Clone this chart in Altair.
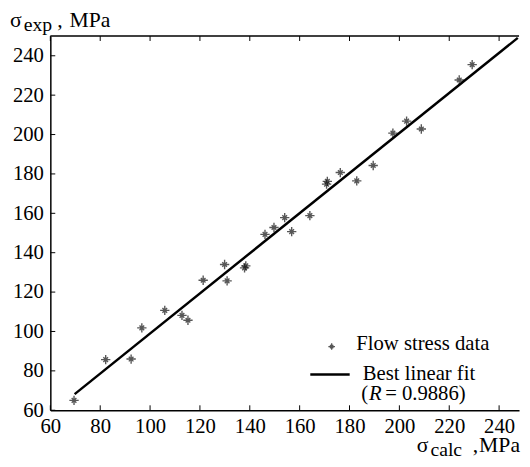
import altair as alt
import pandas as pd

# ---- data ----
calc = [69.5, 82.2, 92.4, 96.7, 105.9, 112.8, 115.2, 121.3, 129.9, 130.9,
        137.9, 138.4, 146.1, 149.7, 154.0, 156.8, 164.1, 170.8, 171.1, 176.3,
        182.9, 189.5, 197.4, 202.9, 208.8, 224.0, 229.2]
exp = [65.0, 85.7, 86.0, 101.8, 110.7, 108.2, 105.7, 126.0, 134.0, 125.7,
       132.3, 133.3, 149.3, 152.8, 157.8, 150.7, 158.8, 174.8, 176.2, 180.7,
       176.5, 184.3, 200.7, 206.8, 202.8, 227.7, 235.5]
fit_calc = [69.75, 247.5]
fit_exp = [68.2, 249.1]
x_ticks = [60, 80, 100, 120, 140, 160, 180, 200, 220, 240]
y_ticks = [60, 80, 100, 120, 140, 160, 180, 200, 220, 240]

FONT = "Liberation Serif"
W, H = 476, 380
xs = alt.Scale(domain=[60, 248], nice=False, zero=False)
ys = alt.Scale(domain=[60, 250], nice=False, zero=False)
STAR = "M-1,0L1,0M0,-1L0,1M-0.5,-0.5L0.5,0.5M-0.5,0.5L0.5,-0.5"

pts = pd.DataFrame({"calc": calc, "exp": exp})
fit = pd.DataFrame({"calc": fit_calc, "exp": fit_exp})
xt = pd.DataFrame({"calc": x_ticks})
yt = pd.DataFrame({"exp": y_ticks})
one = alt.Data(values=[{}])

ax_common = dict(title=None, ticks=False, grid=False, domainColor="black",
                 domainWidth=1.5, labelFont=FONT, labelFontSize=21,
                 labelColor="black", labelFlush=False, labelOverlap=False,
                 format="d")
X_AX = alt.Axis(values=x_ticks, labelPadding=6, **ax_common)
Y_AX = alt.Axis(values=y_ticks, labelPadding=7, **ax_common)


def X(f="calc"):
    return alt.X(f + ":Q", scale=xs, axis=X_AX)


def Y(f="exp"):
    return alt.Y(f + ":Q", scale=ys, axis=Y_AX)


points = alt.Chart(pts).mark_point(
    shape=STAR, size=90, filled=False, stroke="#111111", strokeWidth=1.4
).encode(x=X(), y=Y())

line = alt.Chart(fit).mark_line(color="black", strokeWidth=2.5).encode(x=X(), y=Y())

top_line = alt.Chart(one).mark_rule(color="black", strokeWidth=1.5).encode(
    x=alt.value(0), x2=alt.value(W), y=alt.value(0)
)

xtick_b = alt.Chart(xt).mark_rule(color="black", strokeWidth=1).encode(
    x=X(), y=alt.value(H), y2=alt.value(H - 5))
xtick_t = alt.Chart(xt).mark_rule(color="black", strokeWidth=1).encode(
    x=X(), y=alt.value(0), y2=alt.value(5))
ytick_l = alt.Chart(yt).mark_rule(color="black", strokeWidth=1).encode(
    y=Y(), x=alt.value(0), x2=alt.value(5))


def txt(s, x, y, size=22, align="left", baseline="alphabetic", style="normal"):
    return alt.Chart(one).mark_text(
        text=s, font=FONT, fontSize=size, align=align, baseline=baseline,
        fontStyle=style, color="black"
    ).encode(x=alt.value(x), y=alt.value(y))


titles = [
    # y title (top-left)
    txt("σ", -41, -9.5),
    txt("exp", -27, -5.5, size=20),
    txt(",", 7, -9.5),
    txt("MPa", 61, -9.5, align="right"),
    # x title (bottom-right)
    txt("σ", 372, 422),
    txt("calc", 386, 426, size=20),
    txt(",", 429, 422),
    txt("MPa", 477, 422, align="right"),
]

legend = [
    alt.Chart(one).mark_point(shape=STAR, size=45, filled=False, stroke="#111111",
                              strokeWidth=1.3).encode(x=alt.value(285.7), y=alt.value(315.3)),
    txt("Flow stress data", 310.7, 313, size=21, baseline="middle"),
    alt.Chart(one).mark_rule(color="black", strokeWidth=2.5).encode(
        x=alt.value(264), x2=alt.value(304), y=alt.value(343.7)),
    txt("Best linear fit", 317.3, 343.7, size=21, baseline="middle"),
    txt("(", 315.7, 363.7, size=21, baseline="middle"),
    txt("R", 323.5, 363.7, size=21, baseline="middle", style="italic"),
    txt("= 0.9886)", 340, 363.7, size=21, baseline="middle"),
]

chart = alt.layer(
    points, line, top_line, xtick_b, xtick_t, ytick_l, *titles, *legend
).properties(
    width=W, height=H,
    autosize=alt.AutoSizeParams(type="none"),
    padding={"left": 43, "top": 25, "right": 3, "bottom": 46},
).configure_view(stroke=None)

chart.save("out.html", embed_options={"renderer": "svg", "actions": False})
